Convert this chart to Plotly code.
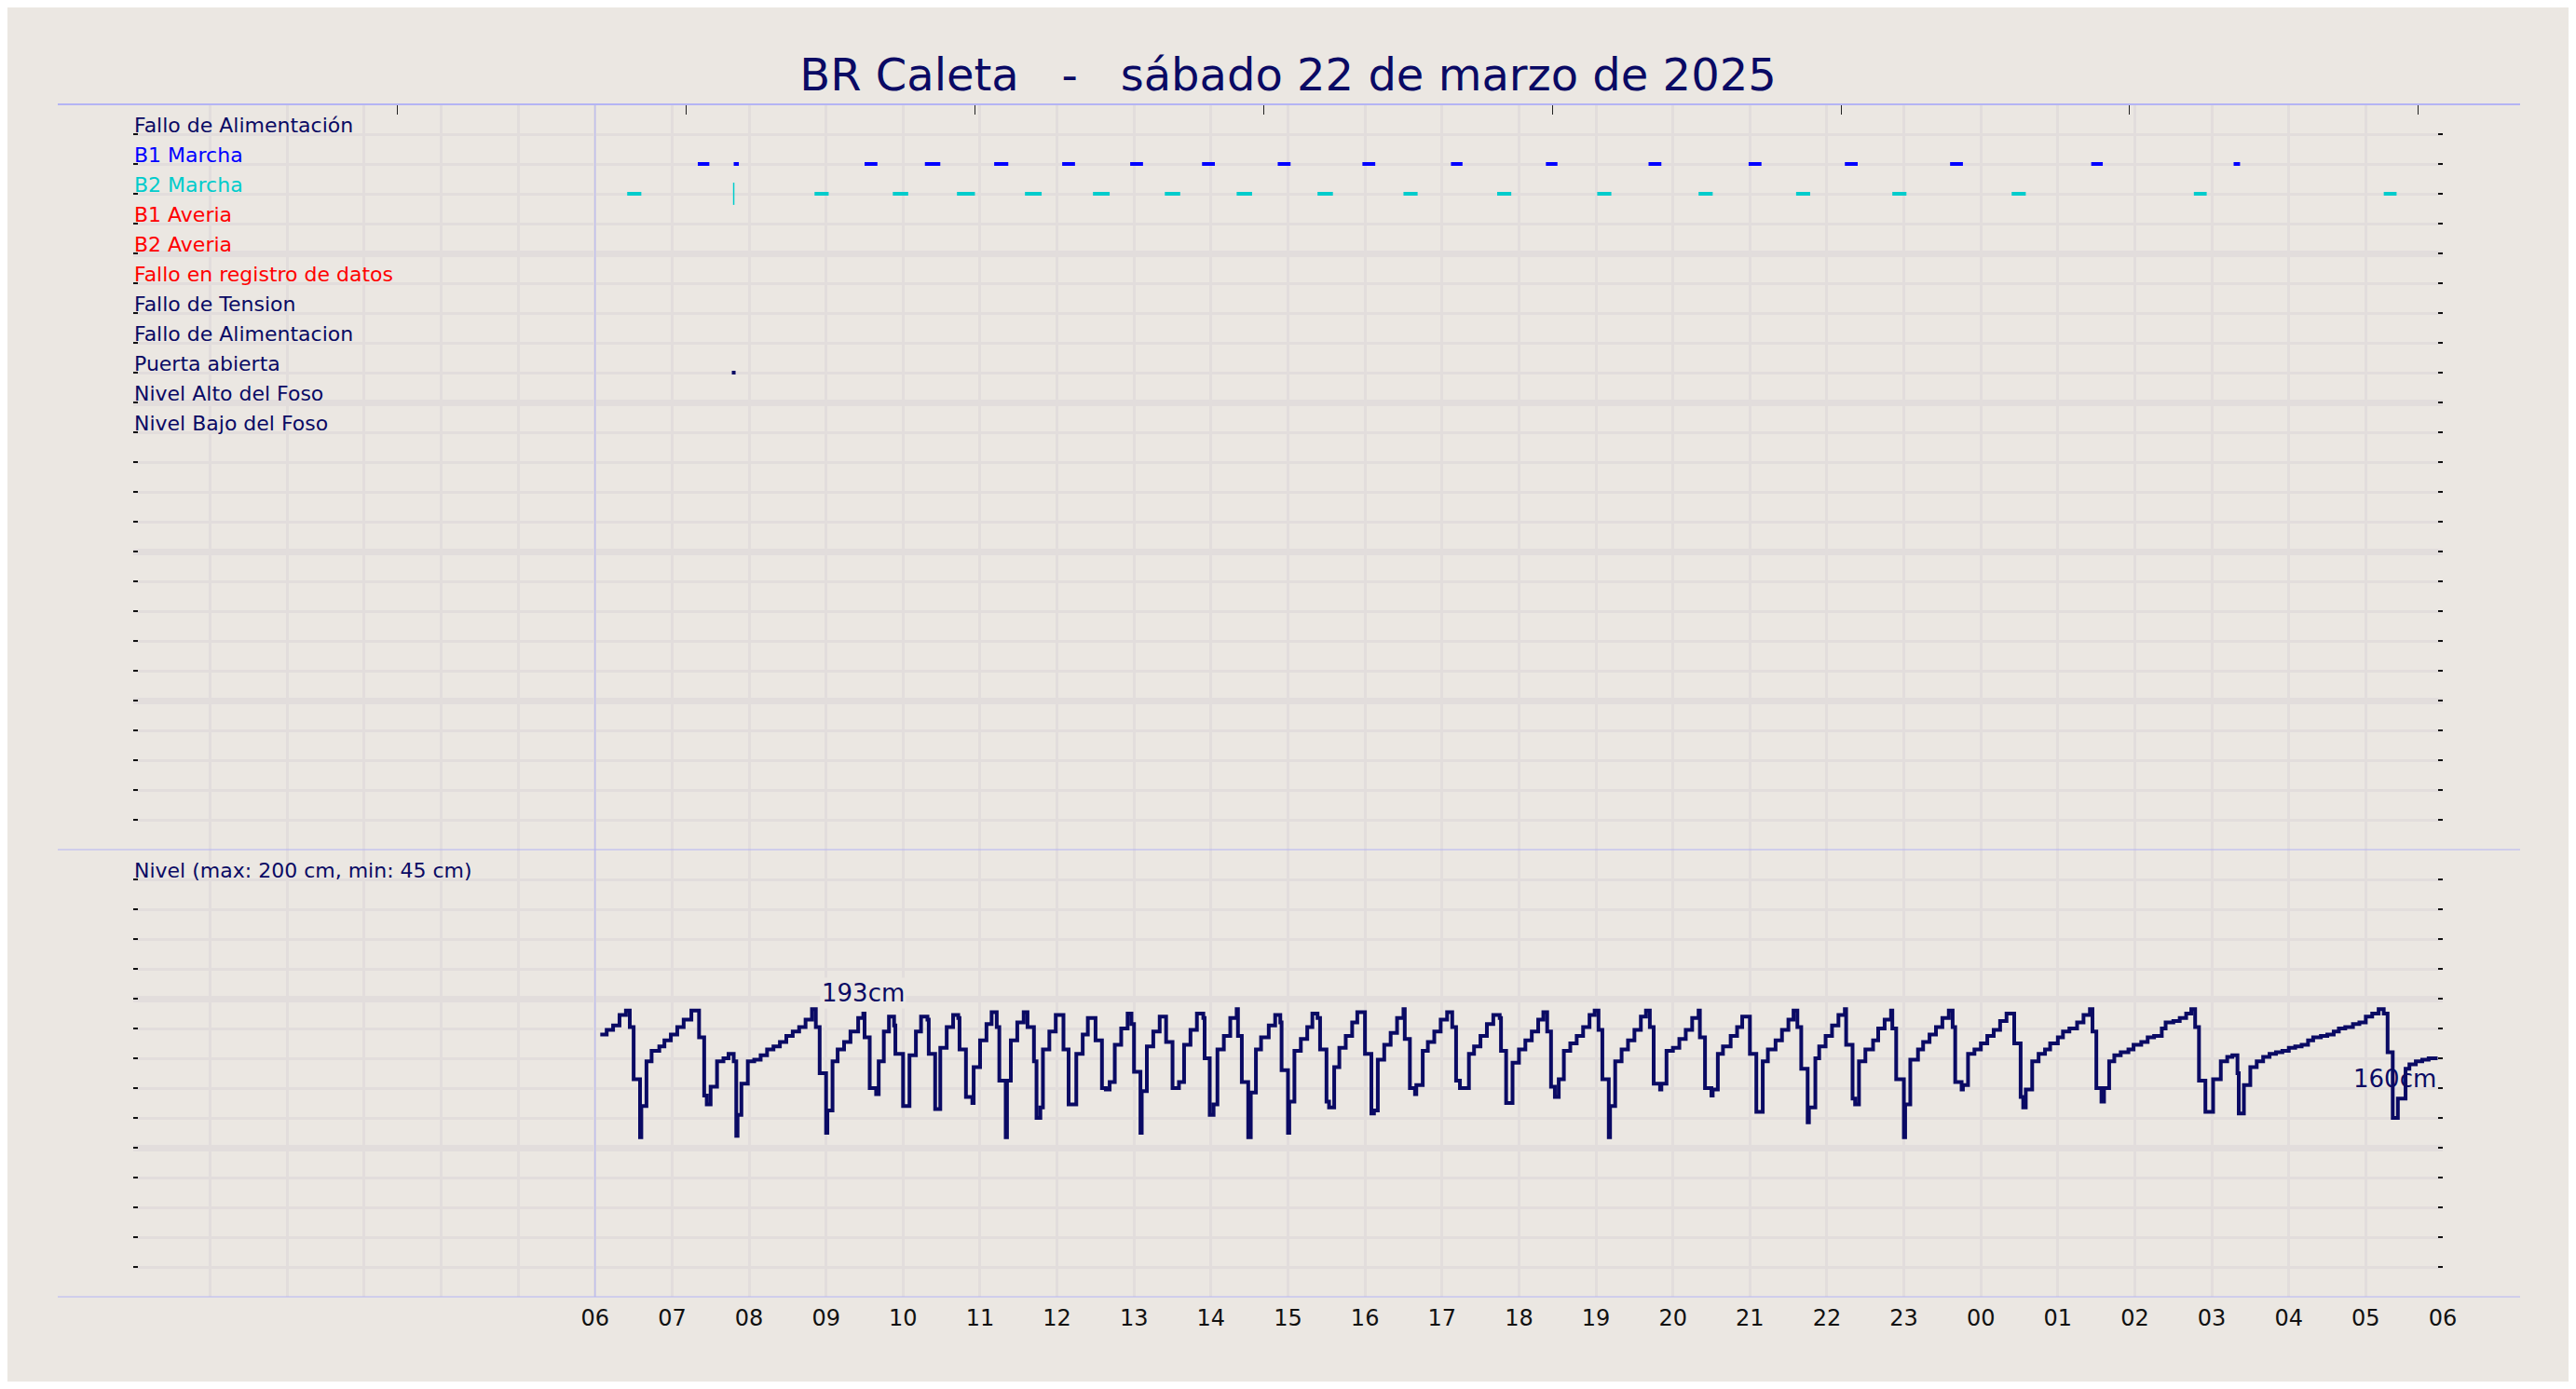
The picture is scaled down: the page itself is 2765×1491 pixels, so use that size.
import pandas as pd
import plotly.graph_objects as go

# Nivel del foso: change points, minutes after 06:00 (22/03/2025) and level in cm
nivel_min = [
    4, 9, 14, 19, 24, 27, 30, 35, 36, 40, 44, 50, 54, 59, 64, 69, 75, 81, 85, 87,
    90, 95, 100, 104, 108, 110, 111, 114, 119, 124, 129, 134, 139, 144, 149, 154, 159, 164, 169, 172,
    175, 180, 181, 185, 189, 194, 199, 205, 209, 210, 214, 219, 221, 225, 229, 233, 234, 240, 245, 250,
    254, 259, 260, 265, 269, 274, 279, 283, 284, 289, 294, 295, 300, 305, 309, 313, 315, 320, 321, 324,
    329, 334, 337, 342, 344, 347, 349, 354, 359, 365, 369, 375, 380, 384, 390, 395, 398, 401, 405, 410,
    415, 418, 420, 425, 426, 430, 435, 440, 445, 450, 455, 459, 464, 469, 474, 475, 479, 482, 485, 490,
    495, 500, 501, 504, 509, 511, 515, 519, 525, 530, 534, 535, 540, 541, 545, 550, 555, 559, 563, 565,
    570, 572, 576, 580, 585, 590, 594, 600, 605, 607, 610, 615, 620, 625, 630, 631, 635, 639, 640, 645,
    649, 654, 659, 664, 668, 671, 674, 681, 685, 690, 695, 700, 705, 706, 710, 715, 720, 725, 730, 735,
    739, 742, 745, 748, 751, 755, 760, 765, 770, 775, 779, 782, 785, 790, 791, 795, 800, 805, 810, 815,
    819, 822, 825, 830, 831, 835, 840, 845, 850, 855, 860, 861, 865, 870, 871, 875, 879, 885, 890, 894,
    900, 905, 910, 914, 920, 925, 930, 934, 937, 940, 945, 946, 951, 954, 959, 964, 969, 974, 975, 980,
    982, 985, 990, 996, 1000, 1005, 1010, 1011, 1014, 1020, 1021, 1025, 1031, 1035, 1040, 1045, 1050, 1055, 1058, 1060,
    1065, 1066, 1070, 1075, 1080, 1085, 1090, 1095, 1100, 1106, 1111, 1113, 1115, 1120, 1125, 1130, 1134, 1140, 1144, 1149,
    1155, 1160, 1165, 1167, 1170, 1174, 1176, 1180, 1184, 1189, 1195, 1199, 1205, 1210, 1215, 1221, 1224, 1230, 1235, 1240,
    1244, 1247, 1250, 1255, 1261, 1267, 1272, 1276, 1280, 1281, 1285, 1290, 1295, 1300, 1305, 1310, 1315, 1320, 1325, 1330,
    1335, 1339, 1345, 1350, 1355, 1359, 1364, 1370, 1375, 1380, 1385, 1390, 1394, 1397, 1401, 1405, 1411, 1414, 1419, 1424,
    1429, 1436,
]
nivel_cm = [
    176, 179, 182, 189, 192, 181, 146, 107, 128, 158, 165, 168, 172, 176, 181, 186, 192, 174, 135, 129,
    141, 158, 160, 163, 158, 108, 122, 143, 158, 159, 162, 166, 168, 171, 175, 178, 181, 186, 193, 181,
    150, 110, 125, 158, 166, 171, 178, 187, 190, 174, 140, 136, 158, 178, 188, 182, 163, 128, 162, 178,
    188, 186, 163, 126, 167, 181, 189, 187, 166, 134, 130, 154, 172, 183, 191, 181, 145, 107, 145, 172,
    184, 191, 181, 158, 120, 127, 166, 178, 189, 166, 129, 163, 176, 187, 172, 140, 139, 144, 169, 180,
    190, 183, 151, 110, 138, 168, 178, 188, 171, 140, 144, 169, 179, 190, 187, 160, 122, 129, 166, 175,
    187, 193, 175, 144, 107, 137, 166, 174, 182, 189, 184, 152, 110, 131, 165, 173, 181, 190, 187, 166,
    131, 127, 154, 167, 175, 184, 191, 163, 123, 125, 159, 169, 177, 187, 193, 173, 140, 136, 142, 165,
    171, 178, 186, 191, 181, 145, 140, 163, 168, 175, 183, 189, 187, 165, 130, 157, 166, 172, 178, 186,
    191, 178, 141, 134, 146, 165, 170, 175, 181, 189, 192, 179, 146, 107, 128, 158, 166, 172, 179, 188,
    192, 181, 143, 139, 143, 165, 167, 173, 179, 187, 192, 174, 140, 135, 139, 163, 168, 175, 181, 188,
    163, 124, 158, 166, 172, 179, 186, 192, 181, 153, 117, 127, 160, 168, 175, 182, 189, 193, 169, 133,
    129, 158, 166, 172, 180, 186, 192, 180, 146, 107, 129, 159, 166, 171, 176, 181, 187, 192, 181, 144,
    139, 142, 163, 166, 170, 175, 179, 185, 190, 170, 134, 127, 139, 158, 163, 166, 170, 174, 178, 180,
    184, 189, 193, 178, 140, 131, 140, 158, 162, 164, 166, 169, 171, 174, 175, 180, 184, 185, 187, 190,
    193, 181, 145, 124, 146, 158, 161, 162, 150, 123, 142, 154, 158, 161, 163, 164, 165, 167, 168, 169,
    172, 174, 175, 176, 178, 180, 181, 183, 184, 188, 190, 193, 190, 164, 120, 133, 153, 156, 158, 159,
    160, 160,
]

# pump runs (minutes after 06:00)
b1_start = [80, 108, 210, 257, 311, 364, 417, 473, 532, 598, 667, 741, 821, 899, 974, 1056, 1166, 1277]
b1_end = [89, 112, 220, 269, 322, 374, 427, 483, 542, 608, 676, 750, 831, 909, 984, 1066, 1175, 1282]
b2_start = [25, 171, 232, 282, 335, 388, 444, 500, 563, 630, 703, 781, 860, 936, 1011, 1104, 1246, 1394]
b2_end = [36, 182, 244, 296, 348, 401, 456, 512, 575, 641, 714, 792, 871, 947, 1022, 1115, 1256, 1404]
b2_pulse = [108]
puerta_pulse = [108]

row_labels = ["Fallo de Alimentación", "B1 Marcha", "B2 Marcha", "B1 Averia", "B2 Averia",
              "Fallo en registro de datos", "Fallo de Tension", "Fallo de Alimentacion",
              "Puerta abierta", "Nivel Alto del Foso", "Nivel Bajo del Foso"]
row_colors = ["#0a0a64", "#0000ff", "#00cccc", "#ff0000", "#ff0000", "#ff0000",
              "#0a0a64", "#0a0a64", "#0a0a64", "#0a0a64", "#0a0a64"]
hour_labels = ["06", "07", "08", "09", "10", "11", "12", "13", "14", "15", "16", "17", "18",
               "19", "20", "21", "22", "23", "00", "01", "02", "03", "04", "05", "06"]
top_ticks = ["2025-03-22 03:26", "2025-03-22 07:11", "2025-03-22 10:56", "2025-03-22 14:41",
             "2025-03-22 18:26", "2025-03-22 22:11", "2025-03-23 01:56", "2025-03-23 05:41"]

NAVY = "#0a0a64"
BG = "#ebe7e2"
GRID = "#e2dddc"
EDGE = "#b4b4f4"
FONT = "DejaVu Sans"

# page body keeps an 8px margin, so the figure is a bit smaller than the window
W, H = 2749, 1475

base = pd.Timestamp("2025-03-22 06:00")
day_start = pd.Timestamp("2025-03-22 00:00")
day_end = pd.Timestamp("2025-03-23 06:00")


def to_time(minutes):
    return [base + pd.Timedelta(minutes=m) for m in minutes]


def segments(starts, ends, row):
    xs, ys = [], []
    for s, e in zip(starts, ends):
        xs += [base + pd.Timedelta(minutes=s), base + pd.Timedelta(minutes=e), None]
        ys += [row, row, None]
    return xs, ys


n_rows = 25
row_y = {name: n_rows - 1 - i for i, name in enumerate(row_labels)}

fig = go.Figure()

# event rows
x1, y1 = segments(b1_start, b1_end, row_y["B1 Marcha"])
fig.add_trace(go.Scatter(x=x1, y=y1, mode="lines", line=dict(color="#0000ff", width=4),
                         xaxis="x", yaxis="y"))
x2, y2 = segments(b2_start, b2_end, row_y["B2 Marcha"])
fig.add_trace(go.Scatter(x=x2, y=y2, mode="lines", line=dict(color="#00cccc", width=4),
                         xaxis="x", yaxis="y"))
fig.add_trace(go.Scatter(x=to_time(b2_pulse), y=[row_y["B2 Marcha"]] * len(b2_pulse), mode="markers",
                         marker=dict(symbol="line-ns", size=17, line=dict(color="#00cccc", width=1.5)),
                         xaxis="x", yaxis="y"))
fig.add_trace(go.Scatter(x=to_time(puerta_pulse), y=[row_y["Puerta abierta"]] * len(puerta_pulse),
                         mode="markers", marker=dict(symbol="square", size=4, color=NAVY),
                         xaxis="x", yaxis="y"))

# level
nivel_t = to_time(nivel_min)
fig.add_trace(go.Scatter(x=nivel_t, y=nivel_cm, mode="lines", line=dict(color=NAVY, width=4, shape="hv"),
                         xaxis="x2", yaxis="y2"))

# max label and last value label
i_max = max(range(len(nivel_cm)), key=lambda i: nivel_cm[i])
fig.add_annotation(x=nivel_t[i_max], y=nivel_cm[i_max], xref="x2", yref="y2", text=f"{nivel_cm[i_max]}cm",
                   showarrow=False, xanchor="left", yanchor="bottom", xshift=8, borderpad=1,
                   bgcolor=BG, font=dict(family=FONT, size=26, color=NAVY))
fig.add_annotation(x=nivel_t[-1], y=nivel_cm[-1], xref="x2", yref="y2", text=f"{nivel_cm[-1]}cm",
                   showarrow=False, xanchor="right", yanchor="top", yshift=-6, borderpad=0,
                   font=dict(family=FONT, size=26, color=NAVY))

for name, color in zip(row_labels, row_colors):
    fig.add_annotation(x=day_start, y=row_y[name], xref="x", yref="y", text=name, showarrow=False,
                       xanchor="left", yanchor="bottom", yshift=-4, borderpad=0,
                       font=dict(family=FONT, size=22, color=color))
fig.add_annotation(x=day_start, y=280, xref="x2", yref="y2", text="Nivel (max: 200 cm, min: 45 cm)",
                   showarrow=False, xanchor="left", yanchor="bottom", yshift=-4, borderpad=0,
                   font=dict(family=FONT, size=22, color=NAVY))

# frame lines
for yy, w in [(1, 2), (0.375, 1), (0, 1)]:
    fig.add_shape(type="line", xref="paper", yref="paper", x0=0, x1=1, y0=yy, y1=yy,
                  line=dict(color=EDGE, width=w), layer="above")
fig.add_shape(type="line", xref="x2", yref="paper", x0=base, x1=base, y0=0, y1=1,
              line=dict(color=EDGE, width=1), layer="above")

dom = [81 / 2643, 2560 / 2643]
hour_minor = dict(tick0=day_start, dtick=3600000, showgrid=True, gridcolor=GRID, gridwidth=2.5, ticks="")

y_common = dict(showticklabels=False, zeroline=False, showgrid=True, gridcolor=GRID, gridwidth=7,
                ticks="inside", ticklen=5, tickwidth=2, tickcolor="#111111", mirror="ticks",
                fixedrange=True)

fig.update_layout(
    width=W, height=H, autosize=False,
    paper_bgcolor=BG, plot_bgcolor=BG,
    margin=dict(l=54, r=52, t=104, b=91, pad=0),
    showlegend=False, hovermode=False,
    font=dict(family=FONT, color=NAVY),
    title=dict(text="BR Caleta\u00a0\u00a0 -\u00a0\u00a0 sábado 22 de marzo de 2025", x=0.5, xanchor="center",
               y=1 - 72 / H, yanchor="middle", font=dict(family=FONT, size=48, color=NAVY)),
    xaxis=dict(domain=dom, anchor="y", type="date", range=[day_start, day_end], side="top",
               tickmode="array", tickvals=top_ticks, ticks="inside", ticklen=11, tickwidth=1,
               tickcolor="#222222", showticklabels=False, showgrid=False, zeroline=False,
               minor=hour_minor, fixedrange=True),
    yaxis=dict(domain=[0.375, 1], anchor="x", range=[0, n_rows], tick0=0, dtick=5,
               minor=dict(dtick=1, showgrid=True, gridcolor=GRID, gridwidth=2.5, ticks="inside",
                          ticklen=5, tickwidth=2, tickcolor="#111111"),
               **y_common),
    xaxis2=dict(domain=dom, anchor="y2", type="date", range=[day_start, day_end],
                tickmode="array", tickvals=to_time([60 * h for h in range(len(hour_labels))]),
                ticktext=hour_labels, ticks="outside", ticklen=1, tickcolor="rgba(0,0,0,0)",
                tickfont=dict(family=FONT, size=24, color="#111111"),
                showgrid=True, gridcolor=GRID, gridwidth=2.5, zeroline=False,
                minor=hour_minor, fixedrange=True),
    yaxis2=dict(domain=[0, 0.375], anchor="x2", range=[0, 300], tick0=0, dtick=100,
                minor=dict(dtick=20, showgrid=True, gridcolor=GRID, gridwidth=2.5, ticks="inside",
                           ticklen=5, tickwidth=2, tickcolor="#111111"),
                **y_common),
)

fig.write_html("out.html")
